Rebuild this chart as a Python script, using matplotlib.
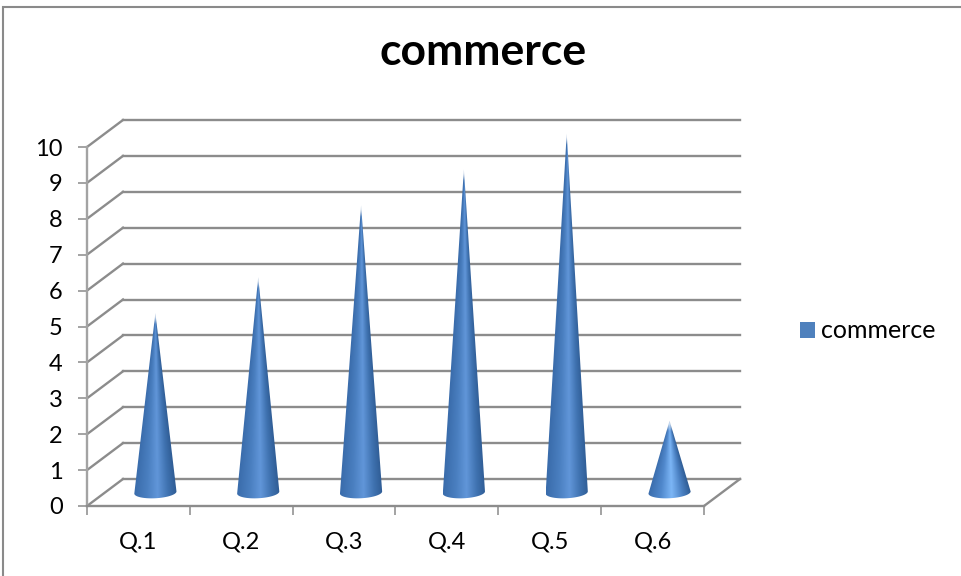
import numpy as np
import matplotlib
matplotlib.use('Agg')
import matplotlib.pyplot as plt
from matplotlib.colors import LinearSegmentedColormap
from matplotlib.patches import Patch, Polygon

categories = ['Q.1', 'Q.2', 'Q.3', 'Q.4', 'Q.5', 'Q.6']
values = [5, 6, 8, 9, 10, 2]
y_ticks = [0, 1, 2, 3, 4, 5, 6, 7, 8, 9, 10]
series_name = 'commerce'

W, H = 961, 576
GREY = '#8c8c8c'
AXIS_GREY = '#a3a3a3'

plt.rcParams['font.family'] = ['Lato', 'DejaVu Sans']

fig = plt.figure(figsize=(W / 100, H / 100), dpi=100)
# axes box is the front plane of the fake 3d chart
ax = fig.add_axes([87 / W, 1 - 506 / H, 617 / W, 359 / H])
ax.patch.set_visible(False)

unit_x = 617 / 6
unit_y = 359 / 10
dx = 36 / unit_x   # depth of the box in data units
dy = 27 / unit_y

# walls and floor
for v in y_ticks:
    ax.plot([0, dx], [v, v + dy], color=GREY, lw=1.7, clip_on=False, zorder=1)
    ax.plot([dx, 6 + dx], [v + dy, v + dy], color=GREY, lw=1.7, clip_on=False, zorder=1)
ax.plot([6, 6 + dx], [0, dy], color=GREY, lw=1.7, clip_on=False, zorder=1)

shade = LinearSegmentedColormap.from_list(
    'cone', [(0, '#3a6cab'), (0.3, '#4a7fc0'), (0.55, '#6196d9'), (0.8, '#3f72b0'), (1, '#2f5c94')])
shade_light = LinearSegmentedColormap.from_list(
    'cone2', [(0, '#3a6cab'), (0.3, '#5088cc'), (0.55, '#7cb6f6'), (0.8, '#4a80c2'), (1, '#2f5c94')])

half_w = 0.205
semi_y = 0.16

for i, v in enumerate(values):
    cx = i + 0.5 + dx / 2 - 0.01
    base = dy / 2
    tip = v + dy / 2
    t = np.linspace(0, np.pi, 40)
    ex = cx + half_w * np.cos(t)
    ey = base + 0.03 * np.cos(t) - semi_y * np.sin(t)
    poly = Polygon(np.vstack([[cx, tip], np.column_stack([ex, ey])]), closed=True,
                   facecolor='none', edgecolor='none', transform=ax.transData)
    ax.add_patch(poly)

    # shade follows the width of the cone, row by row
    xs = np.linspace(cx - half_w, cx + half_w, 120)
    ys = np.linspace(base - semi_y - 0.02, tip, 300)
    gx, gy = np.meshgrid(xs, ys)
    width = np.maximum(half_w * (tip - gy) / (tip - base), 1e-3)
    u = np.clip((gx - cx) / width, -1, 1) / 2 + 0.5
    cmap = shade_light if v < 3 else shade
    rgba = cmap(u)
    # tip fades out a little
    rgba[..., 3] = np.clip((tip - gy) / 0.3, 0.35, 1)
    img = ax.imshow(rgba, origin='lower', aspect='auto',
                    extent=[xs[0], xs[-1], ys[0], ys[-1]], zorder=3,
                    interpolation='bilinear')
    img.set_clip_path(poly)
    img.set_clip_box(fig.bbox)  # tallest cone pokes above the axes box

ax.set_xlim(0, 6)
ax.set_ylim(0, 10)

for name, s in ax.spines.items():
    s.set_visible(name in ('left', 'bottom'))
    s.set_color(AXIS_GREY)
    s.set_linewidth(1.7)
ax.spines['bottom'].set_color(GREY)

ax.set_yticks(y_ticks)
ax.set_xticks(range(7))
ax.set_xticklabels([])
ax.set_xticks(np.arange(6) + 0.5, labels=categories, minor=True)
ax.tick_params(axis='x', which='major', length=6.5, width=1.4, color=AXIS_GREY)
ax.tick_params(axis='x', which='minor', length=0, pad=18, labelsize=17)
ax.tick_params(axis='y', length=6.5, width=1.4, color=AXIS_GREY, labelsize=17, pad=11)

fig.text(483 / W, 1 - 52 / H, series_name, ha='center', va='center',
         fontsize=32, fontweight='bold')

handle = Patch(facecolor='#4f81bd', edgecolor='none', label=series_name)
fig.legend(handles=[handle], loc='center left', bbox_to_anchor=(782 / W, 1 - 331 / H),
           frameon=False, fontsize=18, handlelength=0.6, handleheight=0.6,
           handletextpad=0.27, borderpad=0.2)

# chart area outline
fig.add_artist(plt.Rectangle((3 / W, -0.01), (W + 5) / W, 1.0 - 1 / H, fill=False,
                             edgecolor='#8a8a8a', lw=1.5, transform=fig.transFigure))

fig.savefig('out.png', dpi=100)
